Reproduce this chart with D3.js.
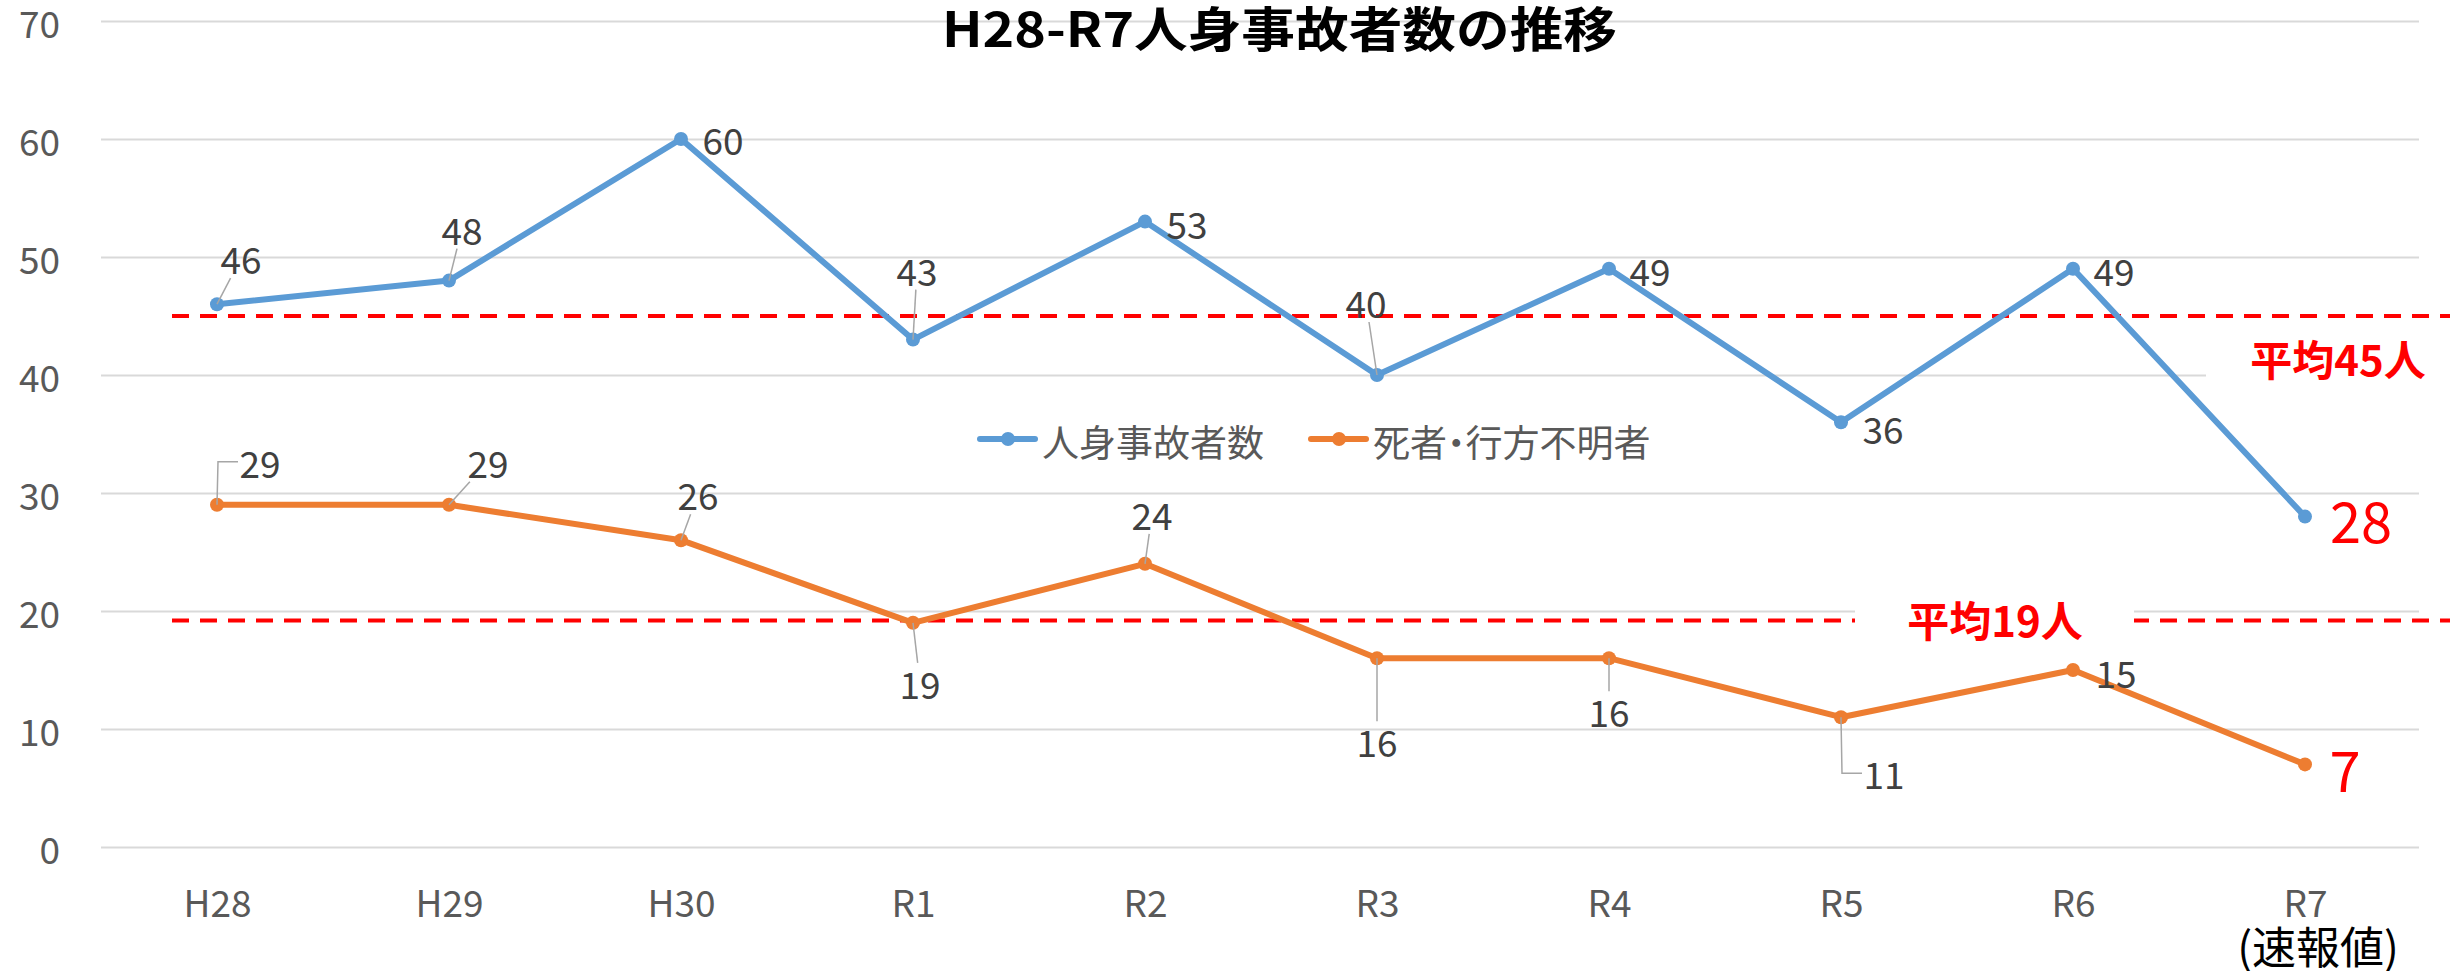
<!DOCTYPE html>
<html>
<head>
<meta charset="utf-8">
<script src="https://cdn.jsdelivr.net/npm/d3@7"></script>
<style>
  html, body { margin: 0; padding: 0; background: #fff; }
  svg { display: block; font-family: "Noto Sans CJK JP", "Noto Sans", sans-serif; }
</style>
</head>
<body>
<svg id="chart" width="2450" height="971"></svg>
<script>
// ---------- data ----------
const categories = ["H28", "H29", "H30", "R1", "R2", "R3", "R4", "R5", "R6", "R7"];
const injuredValues = [46, 48, 60, 43, 53, 40, 49, 36, 49, 28];   // 人身事故者数
const deathValues   = [29, 29, 26, 19, 24, 16, 16, 11, 15, 7];    // 死者・行方不明者
const seriesNames = ["人身事故者数", "死者・行方不明者"];
const yTicks = [0, 10, 20, 30, 40, 50, 60, 70];
const averageValues = [45, 19.2];
const avgLabels = ["平均45人", "平均19人"];
const titleText = "H28-R7人身事故者数の推移";
const lastNote = "(速報値)";

// ---------- label layout (offsets from point, px) ----------
const injuredLabelDx = [24, 13, 42, 4, 42, -11, 41, 42, 41, 56];
const injuredLabelDy = [-46, -52, 0, -70, 1, -73, 1, 6, 1, 2];
const injuredLeader  = ["line", "line", "", "line", "", "line", "", "", "", ""];
const deathLabelDx = [43, 39, 17, 7, 7, 0, 0, 43, 43, 40];
const deathLabelDy = [-43, -43, -46, 60, -50, 83, 53, 56, 2, 3];
const deathLeader  = ["elbow", "line", "line", "line", "line", "line", "line", "elbow", "", ""];

// ---------- setup ----------
const svg = d3.select("#chart");
const plotLeft = 101, plotRight = 2421, plotTop = 21, plotBottom = 847;
const x = d3.scalePoint().domain(categories).range([plotLeft, plotRight]).padding(0.5);
const y = d3.scaleLinear().domain([0, 70]).range([plotBottom, plotTop]);

const blue = "#5B9BD5", orange = "#ED7D31", red = "#FF0000";

// gridlines + y labels
const yAxis = d3.axisLeft(y).tickValues(yTicks).tickSizeInner(-(2419 - plotLeft)).tickSizeOuter(0).tickPadding(41);
const gy = svg.append("g").attr("transform", `translate(${plotLeft},0)`).call(yAxis);
gy.select(".domain").remove();
gy.selectAll(".tick line").attr("stroke", "#D9D9D9").attr("stroke-width", 2);
gy.selectAll(".tick text").attr("fill", "#595959").attr("font-size", 37)
  .attr("dy", null).attr("dominant-baseline", "central")
  .style("font-family", "'Noto Sans CJK JP', sans-serif");

// x axis labels
const xAxis = d3.axisBottom(x).tickSize(0).tickPadding(0);
const gx = svg.append("g").attr("transform", `translate(0,${plotBottom})`).call(xAxis);
gx.select(".domain").remove();
gx.selectAll(".tick text").attr("fill", "#595959").attr("font-size", 37)
  .attr("dy", null).attr("y", 54).attr("dominant-baseline", "central")
  .style("font-family", "'Noto Sans CJK JP', sans-serif");

svg.append("text").attr("x", x("R7") + 13).attr("y", 945)
  .attr("text-anchor", "middle").attr("dominant-baseline", "central")
  .attr("font-size", 44).attr("fill", "#000").text(lastNote);

// title
svg.append("text").attr("x", 942).attr("y", 26)
  .attr("dominant-baseline", "central")
  .attr("font-size", 48).attr("font-weight", "bold").attr("fill", "#000")
  .attr("textLength", 675).attr("lengthAdjust", "spacingAndGlyphs")
  .text(titleText);

// average lines
averageValues.forEach(a => {
  svg.append("line").attr("x1", 172).attr("x2", 2450)
    .attr("y1", y(a)).attr("y2", y(a))
    .attr("stroke", red).attr("stroke-width", 4).attr("stroke-dasharray", "17,11");
});
// white boxes behind average labels
svg.append("rect").attr("x", 2206).attr("y", 328).attr("width", 244).attr("height", 62).attr("fill", "#fff");
svg.append("rect").attr("x", 1855).attr("y", 590).attr("width", 279).attr("height", 56).attr("fill", "#fff");
svg.append("text").attr("x", 2338).attr("y", 357).attr("text-anchor", "middle").attr("dominant-baseline", "central")
  .attr("font-size", 42).attr("font-weight", "bold").attr("fill", red).text(avgLabels[0]);
svg.append("text").attr("x", 1995).attr("y", 618).attr("text-anchor", "middle").attr("dominant-baseline", "central")
  .attr("font-size", 42).attr("font-weight", "bold").attr("fill", red).text(avgLabels[1]);

// series
const series = [
  { name: seriesNames[0], values: injuredValues, color: blue, dx: injuredLabelDx, dy: injuredLabelDy, leader: injuredLeader },
  { name: seriesNames[1], values: deathValues, color: orange, dx: deathLabelDx, dy: deathLabelDy, leader: deathLeader }
];
const line = d3.line().x((d, i) => x(categories[i])).y(d => y(d));

series.forEach(s => {
  svg.append("path").datum(s.values).attr("d", line)
    .attr("fill", "none").attr("stroke", s.color).attr("stroke-width", 6)
    .attr("stroke-linejoin", "round").attr("stroke-linecap", "round");
  svg.append("g").selectAll("circle").data(s.values).join("circle")
    .attr("cx", (d, i) => x(categories[i])).attr("cy", d => y(d)).attr("r", 7)
    .attr("fill", s.color);
});

// labels & leaders
series.forEach(s => {
  s.values.forEach((v, i) => {
    const px = x(categories[i]), py = y(v);
    const cx = px + s.dx[i], cy = py + s.dy[i];
    const isLast = i === s.values.length - 1;
    const hw = 24, hh = 20;
    if (s.leader[i] === "line") {
      const ddx = cx - px, ddy = cy - py;
      const sc = Math.min(ddx === 0 ? Infinity : hw / Math.abs(ddx), ddy === 0 ? Infinity : hh / Math.abs(ddy));
      if (sc < 1) {
        svg.append("line").attr("x1", px).attr("y1", py)
          .attr("x2", cx - ddx * sc).attr("y2", cy - ddy * sc)
          .attr("stroke", "#A6A6A6").attr("stroke-width", 1.5);
      }
    } else if (s.leader[i] === "elbow") {
      svg.append("polyline")
        .attr("points", `${px},${py} ${px + 1},${cy} ${cx - hw + 2},${cy}`)
        .attr("fill", "none").attr("stroke", "#A6A6A6").attr("stroke-width", 1.5);
    }
    svg.append("text").attr("x", cx).attr("y", cy)
      .attr("text-anchor", "middle").attr("dominant-baseline", "central")
      .attr("font-size", isLast ? 56 : 37)
      .attr("fill", isLast ? red : "#404040")
      .text(v);
  });
});

// legend
const legendItems = [
  { name: seriesNames[0], color: blue, x0: 980 },
  { name: seriesNames[1], color: orange, x0: 1311 }
];
legendItems.forEach(it => {
  const ly = 439;
  svg.append("line").attr("x1", it.x0).attr("x2", it.x0 + 55).attr("y1", ly).attr("y2", ly)
    .attr("stroke", it.color).attr("stroke-width", 6).attr("stroke-linecap", "round");
  svg.append("circle").attr("cx", it.x0 + 28).attr("cy", ly).attr("r", 7).attr("fill", it.color);
  svg.append("text").attr("x", it.x0 + 62).attr("y", ly + 2).attr("dominant-baseline", "central")
    .attr("font-size", 37).attr("fill", "#595959")
    .style("font-feature-settings", "'palt'")
    .text(it.name);
});
</script>
</body>
</html>
